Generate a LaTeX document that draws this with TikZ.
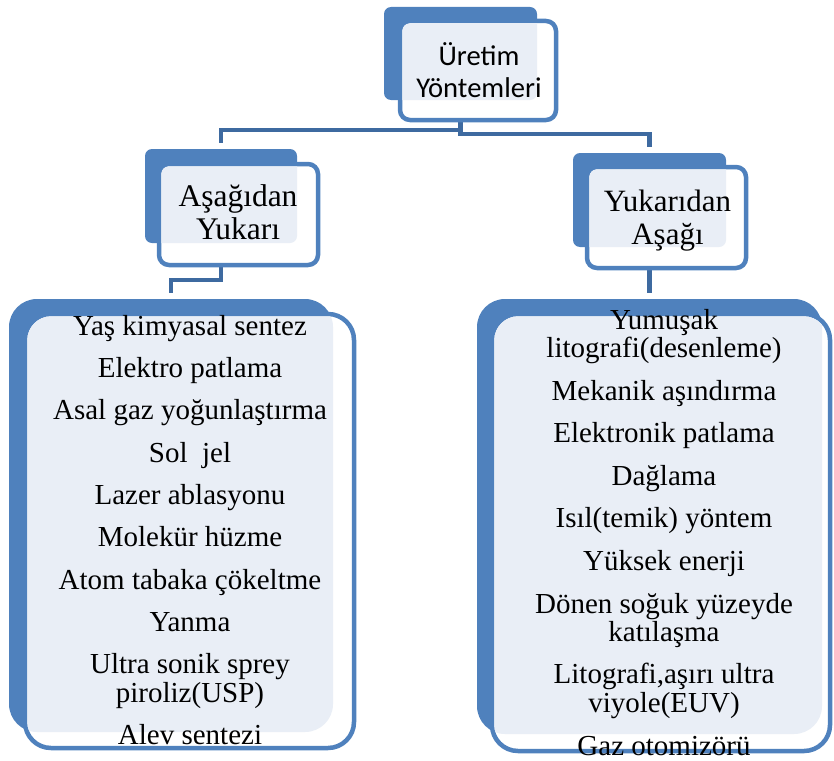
\documentclass[tikz,border=0pt]{standalone}
\usepackage{fontspec}
\setmainfont{Liberation Serif}
\newfontfamily\calibrifont{Carlito}
\usetikzlibrary{backgrounds}
\definecolor{boxblue}{RGB}{79,129,189}
\definecolor{boxlight}{RGB}{233,238,246}
\definecolor{linkblue}{RGB}{62,106,160}

\begin{document}
\begin{tikzpicture}[x=1pt, y=-1pt,
    backcard/.style={rectangle, fill=boxblue, inner sep=0pt, outer sep=0pt},
    frontcard/.style={rectangle, draw=boxblue, line width=4.5pt, fill=white, inner sep=0pt, outer sep=0pt},
    linkline/.style={draw=linkblue, line width=4.5pt, shorten >=6pt},
    headtext/.style={align=center, inner sep=0pt, anchor=north},
    listtext/.style={font=\fontsize{29}{28.3}\selectfont, align=center, inner sep=0pt, anchor=north}
]
\useasboundingbox (0,0) rectangle (834,760);

% Top box
\node[backcard, rounded corners=7pt, minimum width=153pt, minimum height=93pt] (uretim) at (460.5,53.5) {};
\node[frontcard, rounded corners=10pt, minimum width=156pt, minimum height=99pt] (uretimF) at (478,70.5) {};
\begin{scope}
  \clip[rounded corners=8pt] ([shift={(2.25pt,2.25pt)}]uretimF.south west) rectangle ([shift={(-2.25pt,-2.25pt)}]uretimF.north east);
  \fill[boxlight, rounded corners=7pt] (uretim.south west) rectangle (uretim.north east);
\end{scope}
\node[headtext, font=\calibrifont\fontsize{28.6}{32}\selectfont] (uretimT) at (479,42) {Üretim\\Yöntemleri};

% Left group box
\node[backcard, rounded corners=7pt, minimum width=152pt, minimum height=94pt] (asagi) at (221,196) {};
\node[frontcard, rounded corners=10pt, minimum width=159pt, minimum height=101pt] (asagiF) at (238.5,214.5) {};
\begin{scope}
  \clip[rounded corners=8pt] ([shift={(2.25pt,2.25pt)}]asagiF.south west) rectangle ([shift={(-2.25pt,-2.25pt)}]asagiF.north east);
  \fill[boxlight, rounded corners=7pt] (asagi.south west) rectangle (asagi.north east);
\end{scope}
\node[headtext, font=\fontsize{31.5}{33}\selectfont] (asagiT) at (238,184) {Aşağıdan\\Yukarı};

% Right group box
\node[backcard, rounded corners=7pt, minimum width=153pt, minimum height=94pt] (yukari) at (649.5,200) {};
\node[frontcard, rounded corners=10pt, minimum width=159pt, minimum height=101pt] (yukariF) at (666.5,217.5) {};
\begin{scope}
  \clip[rounded corners=8pt] ([shift={(2.25pt,2.25pt)}]yukariF.south west) rectangle ([shift={(-2.25pt,-2.25pt)}]yukariF.north east);
  \fill[boxlight, rounded corners=7pt] (yukari.south west) rectangle (yukari.north east);
\end{scope}
\node[headtext, font=\fontsize{31}{33}\selectfont] (yukariT) at (667.5,190) {Yukarıdan\\Aşağı};

% Left list
\node[backcard, rounded corners=28pt, minimum width=324pt, minimum height=433pt] (solliste) at (171,515.5) {};
\node[frontcard, rounded corners=26pt, minimum width=329pt, minimum height=434pt] (sollisteF) at (189.5,531) {};
\begin{scope}
  \clip[rounded corners=24pt] ([shift={(2.25pt,2.25pt)}]sollisteF.south west) rectangle ([shift={(-2.25pt,-2.25pt)}]sollisteF.north east);
  \fill[boxlight, rounded corners=28pt] (solliste.south west) rectangle (solliste.north east);
\end{scope}
\node[listtext] (sollisteT) at (190,315) {Yaş kimyasal sentez\\[14pt]Elektro patlama\\[14pt]Asal gaz yoğunlaştırma\\[14pt]Sol\ \ jel\\[14pt]Lazer ablasyonu\\[14pt]Molekür hüzme\\[14pt]Atom tabaka çökeltme\\[14pt]Yanma\\[14pt]Ultra sonik sprey\\piroliz(USP)\\[14.5pt]Alev sentezi};

% Right list
\node[backcard, rounded corners=28pt, minimum width=345pt, minimum height=435pt] (sagliste) at (649.5,516.5) {};
\node[frontcard, rounded corners=26pt, minimum width=338pt, minimum height=437pt] (saglisteF) at (661,532.5) {};
\begin{scope}
  \clip[rounded corners=24pt] ([shift={(2.25pt,2.25pt)}]saglisteF.south west) rectangle ([shift={(-2.25pt,-2.25pt)}]saglisteF.north east);
  \fill[boxlight, rounded corners=28pt] (sagliste.south west) rectangle (sagliste.north east);
\end{scope}
\node[listtext] (saglisteT) at (664,309) {Yumuşak\\litografi(desenleme)\\[14.5pt]Mekanik aşındırma\\[14pt]Elektronik patlama\\[14pt]Dağlama\\[14.5pt]Isıl(temik) yöntem\\[14pt]Yüksek enerji\\[14.7pt]Dönen soğuk yüzeyde\\katılaşma\\[14pt]Litografi,aşırı ultra\\viyole(EUV)\\[15.5pt]Gaz otomizörü};

% Connectors behind the boxes
\begin{pgfonlayer}{background}
\draw[linkline] (uretim.south) -- ++(0,30) -| (asagi.north);
\draw[linkline] (uretim.south) -- ++(0,34) -| (yukari.north);
\draw[linkline] (asagi.south) -- ++(0,37) -| (solliste.north);
\draw[linkline] (yukari.south) -- (sagliste.north);
\end{pgfonlayer}

\end{tikzpicture}
\end{document}
